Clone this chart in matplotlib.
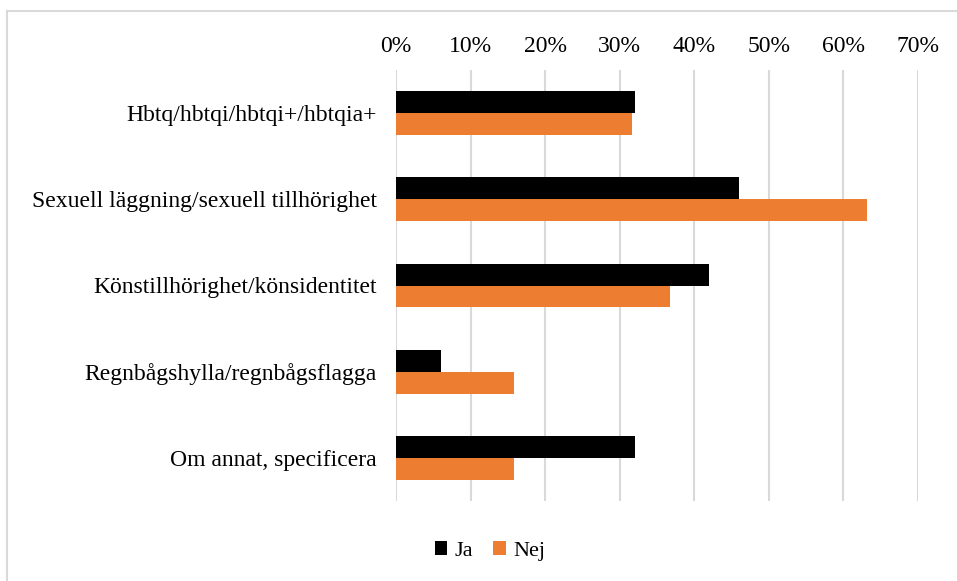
import numpy as np
import matplotlib.pyplot as plt
from matplotlib.lines import Line2D

categories = ["Hbtq/hbtqi/hbtqi+/hbtqia+",
              "Sexuell läggning/sexuell tillhörighet",
              "Könstillhörighet/könsidentitet",
              "Regnbågshylla/regnbågsflagga",
              "Om annat, specificera"]
ja = [32.0, 46.0, 42.0, 6.0, 32.0]
nej = [31.6, 63.2, 36.8, 15.8, 15.8]
ticks = [0, 10, 20, 30, 40, 50, 60, 70]

plt.rcParams['font.family'] = ['Liberation Serif', 'DejaVu Serif']

fig = plt.figure(figsize=(9.57, 5.81), dpi=100)
ax = fig.add_axes([396/957, 1-501/581, (918-396)/957, (501-70)/581])

y = np.arange(len(categories))
h = 0.255
ax.barh(y - h/2, ja, height=h, color='black', label='Ja')
ax.barh(y + h/2, nej, height=h, color='#ED7D31', label='Nej')

ax.set_xlim(0, 70)
ax.set_ylim(len(categories) - 0.5, -0.5)
ax.set_yticks(y)
ax.set_yticklabels(categories, fontsize=17)
ax.set_xticks(ticks)
ax.set_xticklabels([f"{t}%" for t in ticks], fontsize=17)
ax.xaxis.tick_top()
ax.tick_params(axis='both', length=0)
ax.tick_params(axis='x', pad=9)
ax.tick_params(axis='y', pad=14)
ax.grid(axis='x', color='#D9D9D9', linewidth=1.5)
ax.set_axisbelow(True)
for s in ax.spines.values():
    s.set_visible(False)

ax.legend(loc='center', bbox_to_anchor=(490/957, 1-551/581), bbox_transform=fig.transFigure,
          ncol=2, frameon=False, fontsize=16, handlelength=0.55, handleheight=0.55,
          handletextpad=0.35, columnspacing=0.9)

# chart frame (only top and left edges visible in the crop)
fig.add_artist(Line2D([7/957, 7/957], [0, 1-11/581], transform=fig.transFigure,
                      color='#D9D9D9', linewidth=1.5))
fig.add_artist(Line2D([7/957, 1], [1-11/581, 1-11/581], transform=fig.transFigure,
                      color='#D9D9D9', linewidth=1.5))

fig.savefig('out.png', dpi=100)
